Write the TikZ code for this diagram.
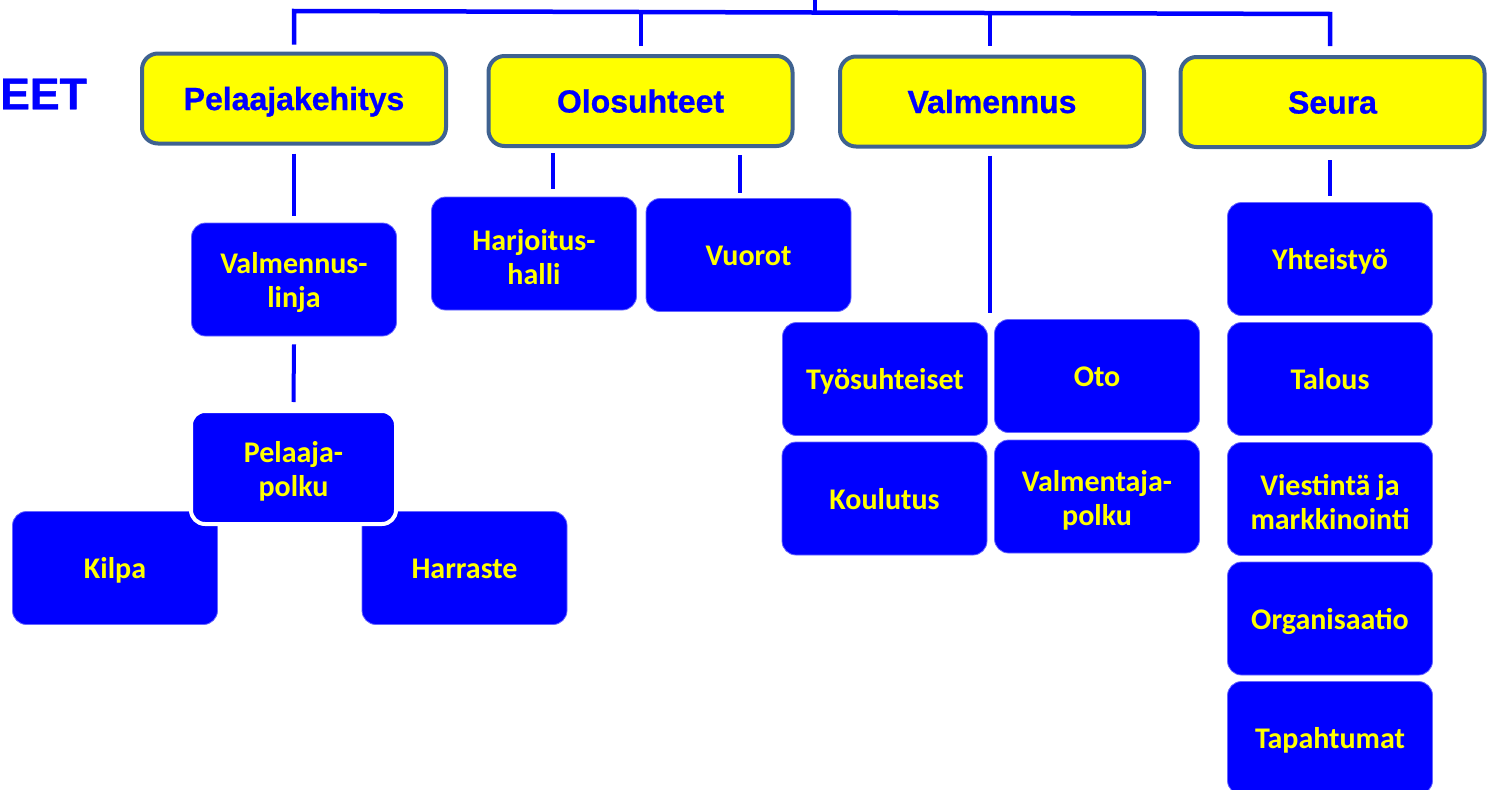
\documentclass[tikz,border=0pt]{standalone}
\usepackage{fontspec}
\setmainfont{Carlito}
\newfontfamily\hdr[FakeBold=0.8]{Liberation Sans}
\definecolor{pblue}{HTML}{0000FF}
\definecolor{pyel}{HTML}{FFFF00}
\definecolor{steel}{HTML}{3F6290}
\newcommand{\tallstrut}{\rule{0pt}{28pt}}
\begin{document}
\begin{tikzpicture}[x=1pt,y=-1pt,
 head/.style={draw=steel, line width=4pt, fill=pyel, rounded corners=16pt, minimum width=304pt, minimum height=90pt, inner sep=0pt, text height=23pt, text depth=0pt, font=\hdr\bfseries\fontsize{32}{36}\selectfont, text=pblue},
 sub/.style={draw=blue!60!white, line width=0.8pt, fill=pblue, rounded corners=14pt, minimum width=205pt, minimum height=113pt, inner sep=0pt, align=center, font=\bfseries\fontsize{30}{34}\selectfont, text=pyel},
 one/.style={text height=21pt, text depth=0pt},
 conn/.style={draw=pblue, line width=4pt}]
\useasboundingbox (0,0) rectangle (1489,790);
\clip (0,0) rectangle (1489,790);

\node[anchor=east, text=pblue, font=\hdr\bfseries\fontsize{44.5}{46}\selectfont, inner sep=0pt] (eet) at (87,94) {EET};

% headers
\node[head] (pk) at (294,98.5) {Pelaajakehitys};
\node[head] (ol) at (640.5,101) {Olosuhteet};
\node[head] (vm) at (992,101.5) {Valmennus};
\node[head] (sr) at (1332.5,102) {Seura};

% top bar
\coordinate (topend) at (815,-3);
\coordinate (hub) at (815,12);
\coordinate (barL) at (0,11);
\coordinate (barR) at (0,14);
\draw[conn] (topend) -- (hub);
\draw[conn, line width=4.5pt] ([yshift=7pt]pk.north) -- (pk.north |- barL) -- ([xshift=-2.5pt]sr.north |- barR) -- ([xshift=-2.5pt,yshift=9pt]sr.north);
\draw[conn] ([yshift=8pt]ol.north) -- (ol.north |- barL);
\draw[conn] ([xshift=-2pt,yshift=9pt]vm.north) -- ([xshift=-2pt]vm.north |- hub);

% Pelaajakehitys branch
\node[sub] (vl) at (294,279.5) {\tallstrut Valmennus-\\linja};
\node[sub, one] (ki) at (115,568) {Kilpa};
\node[sub, one] (ha) at (464.5,568) {Harraste};
\node[sub, draw=white, line width=4pt] (pp) at (293.5,467.5) {\tallstrut Pelaaja-\\polku};
\draw[conn] ([yshift=-8pt]pk.south) -- ([yshift=7pt]vl.north);
\draw[conn] ([yshift=-8pt]vl.south) -- ([yshift=7pt]pp.north);

% Olosuhteet branch
\node[sub] (hh) at (534,253.5) {\tallstrut Harjoitus-\\halli};
\node[sub, one] (vu) at (748.5,255) {Vuorot};
\draw[conn] ([xshift=-87.5pt,yshift=-5pt]ol.south) -- ([xshift=19pt,yshift=8pt]hh.north);
\draw[conn] ([xshift=99.5pt,yshift=-7pt]ol.south) -- ([xshift=-8.5pt,yshift=5pt]vu.north);

% Valmennus branch
\node[sub, one] (ts) at (885,379) {Työsuhteiset};
\node[sub, one] (ot) at (1097,376) {Oto};
\node[sub, one] (ko) at (884.5,498.5) {Koulutus};
\node[sub] (vp) at (1097,496.5) {\tallstrut Valmentaja-\\polku};
\draw[conn] ([xshift=-2pt,yshift=-7pt]vm.south) -- ([xshift=-2pt,yshift=9pt]vm.south |- ts.north);

% Seura branch
\node[sub, one] (yh) at (1330,259) {Yhteistyö};
\node[sub, one] (ta) at (1330,379) {Talous};
\node[sub] (vi) at (1330,499) {\tallstrut Viestintä ja\\markkinointi};
\node[sub, one] (or) at (1330,618.5) {Organisaatio};
\node[sub, one] (tp) at (1330,738) {Tapahtumat};
\draw[conn] ([yshift=-11pt]sr.south -| yh.north) -- ([yshift=6pt]yh.north);
\end{tikzpicture}
\end{document}
